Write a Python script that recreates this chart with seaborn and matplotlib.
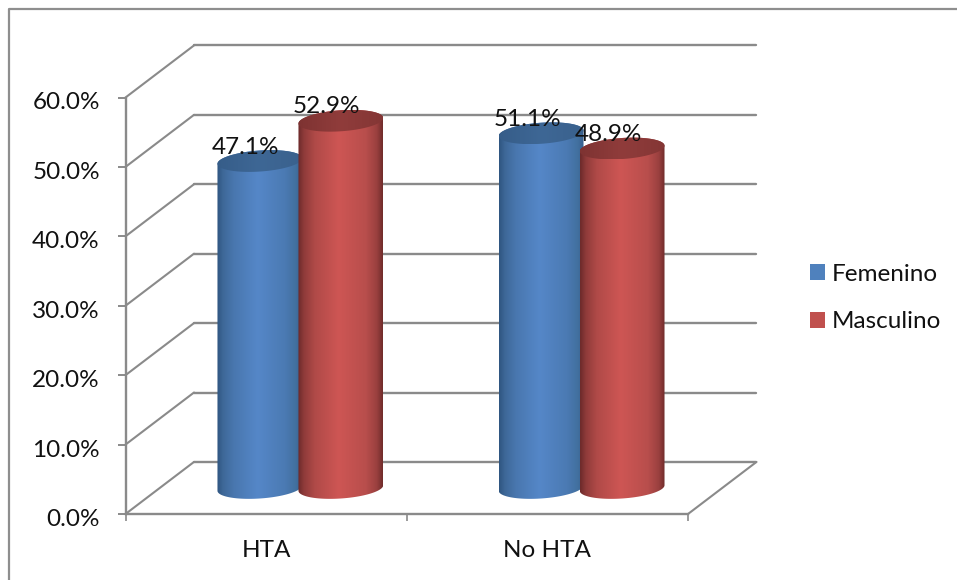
import numpy as np
import pandas as pd
import matplotlib
matplotlib.use("Agg")
import matplotlib.pyplot as plt
import seaborn as sns
from matplotlib.colors import LinearSegmentedColormap
from matplotlib.lines import Line2D
from matplotlib.patches import Patch, PathPatch
from matplotlib.path import Path
from matplotlib.ticker import FuncFormatter
from matplotlib.transforms import IdentityTransform, ScaledTranslation

categories = ["HTA", "No HTA"]
femenino = [47.1, 51.1]
masculino = [52.9, 48.9]
series_names = ["Femenino", "Masculino"]
legend_colors = ["#4F81BD", "#C0504D"]

stop_positions = [0.0, 0.07, 0.2, 0.48, 0.8, 0.93, 1.0]
body_stops = {
    "Femenino": ["#2F5580", "#3E6898", "#4977AF", "#5587C8", "#4B7AB3", "#42709F", "#37608F"],
    "Masculino": ["#6C2A2A", "#8F3B3A", "#B04A48", "#CE5654", "#B84E4C", "#9A403F", "#702C2B"],
}
cap_stops = {
    "Femenino": ["#365D89", "#3E6795", "#3A618D"],
    "Masculino": ["#7E3332", "#903C3B", "#843635"],
}

GRID = "#8A8A8A"
TEXT = "#111111"
FONT_SIZE = 17.5
DEPTH_X = 0.2435   # wall depth, category units
DEPTH_Y = 7.5      # wall depth, percentage points

sns.set_theme(style="white")
plt.rcParams["font.family"] = ["Lato", "DejaVu Sans"]

fig = plt.figure(figsize=(9.57, 5.8), dpi=100)
ax = fig.add_axes([125.5 / 957, 66 / 580, 562.5 / 957, 416.5 / 580])

df = pd.DataFrame({
    "categoria": categories * 2,
    "sexo": [series_names[0]] * 2 + [series_names[1]] * 2,
    "valor": femenino + masculino,
})
sns.barplot(data=df, x="categoria", y="valor", hue="sexo", order=categories,
            hue_order=series_names, palette=legend_colors, width=0.576,
            gap=-0.05, legend=False, ax=ax, errorbar=None)
ax.set_xlim(-0.5, 1.5)
ax.set_ylim(0, 60)
fig.canvas.draw()

# Walls and floor of the 3D box
yticks = np.arange(0, 61, 10)
for y in yticks:
    ax.plot([-0.5 + DEPTH_X, 1.5 + DEPTH_X], [y + DEPTH_Y] * 2, color=GRID,
            lw=1.7, clip_on=False, zorder=1)
    ax.plot([-0.5, -0.5 + DEPTH_X], [y, y + DEPTH_Y], color=GRID, lw=1.5,
            clip_on=False, zorder=1)
ax.plot([1.5, 1.5 + DEPTH_X], [0, DEPTH_Y], color=GRID, lw=1.5, clip_on=False, zorder=1)


def ellipse_points(center, t):
    a, b, rot = 42.5, 10.5, np.deg2rad(4)
    ex, ey = a * np.cos(t), b * np.sin(t)
    return np.column_stack([
        center[0] + ex * np.cos(rot) - ey * np.sin(rot),
        center[1] + ex * np.sin(rot) + ey * np.cos(rot),
    ])


def shaded(points, stops, zorder):
    """Fill a closed outline with a left-to-right gradient."""
    path = Path(np.vstack([points, points[:1]]), closed=True)
    x0, x1 = points[:, 0].min(), points[:, 0].max()
    y0, y1 = points[:, 1].min(), points[:, 1].max()
    if len(stops) == len(stop_positions):
        cmap = LinearSegmentedColormap.from_list("cyl", list(zip(stop_positions, stops)))
    else:
        cmap = LinearSegmentedColormap.from_list("cyl", stops)
    im = ax.imshow(np.linspace(0, 1, 256)[None, :], cmap=cmap, aspect="auto",
                   extent=[x0, x1, y0, y1], transform=IdentityTransform(),
                   zorder=zorder, interpolation="bilinear")
    im.set_clip_path(PathPatch(path, transform=IdentityTransform()))


# Each seaborn bar becomes a cylinder standing in the middle of the box depth
for s, (name, bars) in enumerate(zip(series_names, ax.containers)):
    for c, bar in enumerate(bars):
        xc = bar.get_x() + bar.get_width() / 2
        value = bar.get_height()
        base = ax.transData.transform((xc + DEPTH_X / 2, DEPTH_Y / 2))
        top = ax.transData.transform((xc + DEPTH_X / 2, value + DEPTH_Y / 2))
        z = 3 + c * 2 + s * 0.5
        outline = np.vstack([
            ellipse_points(base, np.linspace(np.pi, 2 * np.pi, 80)),
            ellipse_points(top, np.linspace(0, np.pi, 80)),
        ])
        shaded(outline, body_stops[name], z)
        cap = ellipse_points(top, np.linspace(0, 2 * np.pi, 160))
        shaded(cap, cap_stops[name], z + 0.1)
        bar.set_visible(False)
        ax.annotate(f"{value:.1f}%", xy=(xc + DEPTH_X / 2, value + DEPTH_Y / 2),
                    xytext=(-14, 14), textcoords="offset pixels", ha="center",
                    va="center", fontsize=FONT_SIZE, color=TEXT, zorder=20)

ax.set_xlim(-0.5, 1.5)
ax.set_ylim(0, 60)

# Axes
ax.set_xlabel("")
ax.set_ylabel("")
ax.set_yticks(yticks)
ax.yaxis.set_major_formatter(FuncFormatter(lambda v, _: f"{v:.1f}%"))
ax.set_xticks([0, 1], categories)
ax.set_xticks([-0.5, 0.5, 1.5], minor=True)
ax.tick_params(axis="y", which="major", left=True, length=6, width=1.4, color=GRID,
               pad=12.5, labelsize=FONT_SIZE, labelcolor=TEXT)
ax.tick_params(axis="x", which="major", bottom=False, length=0, pad=18.5,
               labelsize=FONT_SIZE, labelcolor=TEXT)
ax.tick_params(axis="x", which="minor", bottom=True, length=5, width=1.2, color=GRID)
nudge_down = ScaledTranslation(0, -2.5 / 72, fig.dpi_scale_trans)
for label in ax.get_yticklabels():
    label.set_transform(label.get_transform() + nudge_down)
for side in ("top", "right"):
    ax.spines[side].set_visible(False)
for side in ("left", "bottom"):
    ax.spines[side].set_color(GRID)
    ax.spines[side].set_linewidth(1.7)
ax.patch.set_alpha(0)

handles = [Patch(facecolor=col, edgecolor="none", label=lab)
           for col, lab in zip(legend_colors, series_names)]
fig.legend(handles=handles, loc="center left", bbox_to_anchor=(788 / 957, 1 - 298 / 580),
           frameon=False, fontsize=FONT_SIZE, handlelength=0.62, handleheight=0.62,
           handletextpad=0.26, labelspacing=1.1, labelcolor=TEXT)

# Chart frame: only its top and left edges fall inside the canvas
fig.add_artist(Line2D([9 / 957, 9 / 957, 1], [0, 1 - 9 / 580, 1 - 9 / 580],
                      transform=fig.transFigure, color="#8E8E8E", linewidth=1.6))

fig.savefig("out.png", dpi=100, facecolor="white")
